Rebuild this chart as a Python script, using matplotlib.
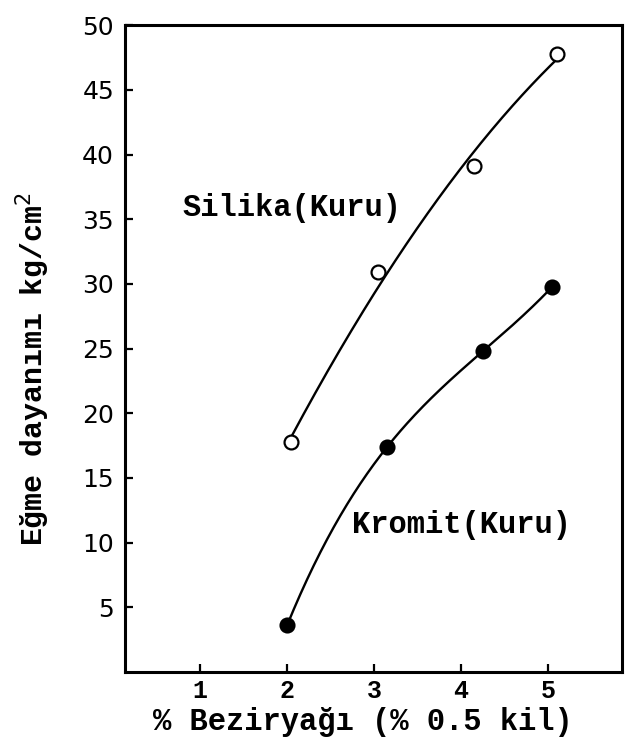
"""
Egme dayanimi vs % Beziryagi (scanned figure re-draw)
"""

import numpy as np
import matplotlib
matplotlib.use("Agg")
import matplotlib.pyplot as plt

# Data
silika_x = [2.05, 3.05, 4.15, 5.1]
silika_y = [17.8, 30.9, 39.1, 47.8]
kromit_x = [2.0, 3.15, 4.25, 5.05]
kromit_y = [3.6, 17.4, 24.8, 29.8]

xticks = [1, 2, 3, 4, 5]
yticks = [5, 10, 15, 20, 25, 30, 35, 40, 45, 50]

mono = "Liberation Mono"


def smooth(x, y, deg):
    """ Smooth hand-drawn style curve through the points """
    coef = np.polyfit(x, y, deg)
    xs = np.linspace(min(x), max(x), 200)
    return xs, np.polyval(coef, xs)


fig = plt.figure(figsize=(6.29, 7.45), dpi=100)
ax = fig.add_axes([0.199, 0.098, 0.790, 0.868])

# Curves (silika drawn as a gentle arc, kromit bends hard at the start)
for (x, y, fill, deg) in [(silika_x, silika_y, "white", 2),
                          (kromit_x, kromit_y, "black", 3)]:
    xs, ys = smooth(x, y, deg)
    ax.plot(xs, ys, color="black", lw=1.7, zorder=2)
    ax.plot(x, y, "o", ms=10, mfc=fill, mec="black", mew=1.6, zorder=3)

# Curve labels
ax.text(0.8, 35.9, "Silika(Kuru)", fontfamily=mono, fontweight="bold",
        fontsize=22, va="center", ha="left")
ax.text(2.75, 11.4, "Kromit(Kuru)", fontfamily=mono, fontweight="bold",
        fontsize=22, va="center", ha="left")

# Axes setup
ax.set_xlim(0.14, 5.85)
ax.set_ylim(0, 50)
ax.set_xticks(xticks)
ax.set_yticks(yticks)
ax.set_xticklabels([str(t) for t in xticks], fontfamily=mono, fontweight="bold", fontsize=18)
ax.set_yticklabels([str(t) for t in yticks], fontsize=18)
ax.tick_params(direction="in", length=6, width=1.6, pad=8)
ax.tick_params(axis="x", pad=5)
for s in ax.spines.values():
    s.set_linewidth(2.2)

fig.text(0.577, 0.031, "% Beziryağı (% 0.5 kil)", fontfamily=mono, fontweight="bold",
         fontsize=22, ha="center", va="center")
fig.text(0.052, 0.505, "Eğme dayanımı kg/cm$^2$", fontfamily=mono, fontweight="bold",
         fontsize=21.5, ha="center", va="center", rotation=90)

fig.savefig("out.png", dpi=100)
